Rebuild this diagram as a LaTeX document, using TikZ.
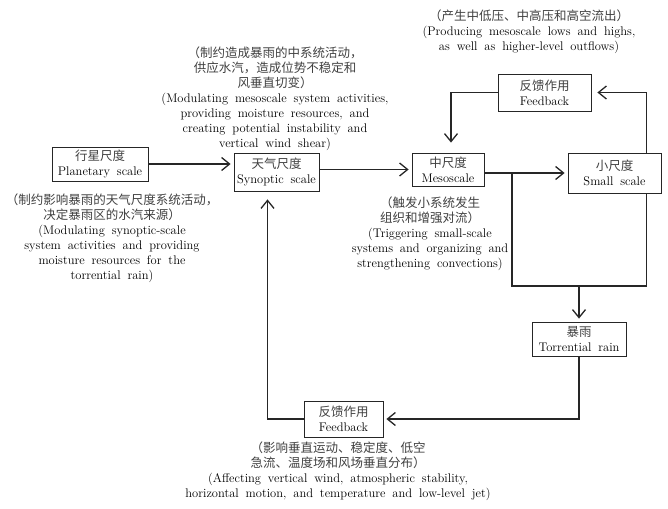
\documentclass[tikz,border=0pt]{standalone}
\usepackage{fontspec}
\newfontfamily\cjk{Noto Sans CJK SC}
\usepackage{tikz}
\usetikzlibrary{arrows.meta}

\newcommand{\zh}[1]{{\color{black!75}\cjk #1}}
\newcommand{\lab}{\fontsize{12.5}{15}\selectfont\spaceskip=0.55em plus 0.1em\relax}

\tikzset{
  box/.style={draw=black!85, line width=0.8pt, align=center, inner sep=1pt, text=black, font=\lab},
  note/.style={align=center, inner sep=0pt, text=black, font=\lab},
  link/.style={draw=black!85, line width=1.3pt},
  flow/.style={link, -{Straight Barb[length=8pt,width=13pt]}, shorten >=3pt}
}

\begin{document}
\begin{tikzpicture}[x=1pt,y=-1pt]
    \useasboundingbox (0,0) rectangle (668,508);
    % scales
    \node[box, minimum width=96pt, minimum height=34pt] (planet) at (100,164) {\zh{行星尺度}\\Planetary scale};
    \node[box, minimum width=85pt, minimum height=38pt] (synop) at (276.5,172) {\zh{天气尺度}\\Synoptic scale};
    \node[box, minimum width=72pt, minimum height=33pt] (meso) at (448,169.5) {\zh{中尺度}\\Mesoscale};
    \node[box, minimum width=93pt, minimum height=40pt] (small) at (614.5,173) {\zh{小尺度}\\Small scale};
    \node[box, minimum width=94pt, minimum height=34pt] (rain) at (579,339) {\zh{暴雨}\\Torrential rain};
    % feedbacks
    \node[box, minimum width=93pt, minimum height=37pt] (fbtop) at (544.5,92.5) {\zh{反馈作用}\\Feedback};
    \node[box, minimum width=79pt, minimum height=36pt] (fbbot) at (343.5,419) {\zh{反馈作用}\\Feedback};
    % notes
    \node[note] (topnote) at (529,32) {\zh{（产生中低压、中高压和高空流出）}\\(Producing mesoscale lows and highs,\\as well as higher-level outflows)};
    \node[note] (synnote) at (275,99) {\zh{（制约造成暴雨的中系统活动，}\\\zh{供应水汽，造成位势不稳定和}\\\zh{风垂直切变）}\\(Modulating mesoscale system activities,\\providing moisture resources, and\\creating potential instability and\\vertical wind shear)};
    \node[note] (plnote) at (112,238) {\zh{（制约影响暴雨的天气尺度系统活动，}\\\zh{决定暴雨区的水汽来源）}\\(Modulating synoptic-scale\\system activities and providing\\moisture resources for the\\torrential rain)};
    \node[note] (mesonote) at (430,234) {\zh{（触发小系统发生}\\\zh{组织和增强对流）}\\(Triggering small-scale\\systems and organizing and\\strengthening convections)};
    \node[note] (fbnote) at (338,471) {\zh{（影响垂直运动、稳定度、低空}\\\zh{急流、温度场和风场垂直分布）}\\(Affecting vertical wind, atmospheric stability,\\horizontal motion, and temperature and low-level jet)};

    \coordinate (split) at (512,173);
    \coordinate (merge) at (579,286);

    \draw[flow] (planet.east) -- (planet.east -| synop.west);
    \draw[flow] (meso.west -| synop.east) -- (meso.west);
    \draw[flow] (meso.east |- small.west) -- (small.west);
    \draw[flow, shorten >=6pt] ([xshift=-15pt]small.north east) |- (fbtop.east);
    \draw[flow, shorten >=10pt] (fbtop.west) -| ([xshift=3pt]meso.north);
    \draw[link] (split) |- (merge) -| ([xshift=-15pt]small.south east);
    \draw[flow] (merge) -- (rain.north);
    \draw[flow] (rain.south) |- (fbbot.east);
    \draw[flow, shorten >=8pt] (fbbot.west) -| ([xshift=-9pt]synop.south);
\end{tikzpicture}
\end{document}
